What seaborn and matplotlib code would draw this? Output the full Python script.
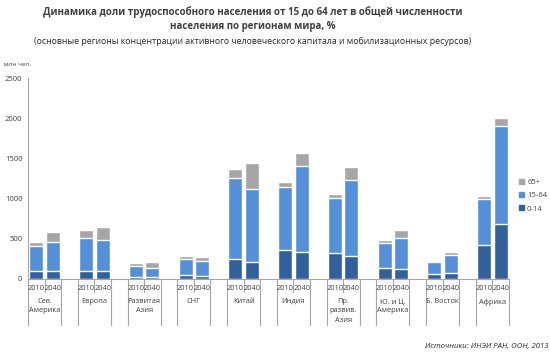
import matplotlib
matplotlib.use("Agg")
import matplotlib.pyplot as plt
from matplotlib.patches import Patch
import pandas as pd
import seaborn as sns

# данные (млн чел.), пары значений 2010 / 2040 по регионам
regions = ['Сев.\nАмерика', 'Европа', 'Развитая\nАзия', 'СНГ', 'Китай', 'Индия',
           'Пр.\nразвив.\nАзия', 'Ю. и Ц.\nАмерика', 'Б. Восток', 'Африка']
years = ['2010', '2040']
age_0_14 = [100, 104, 100, 95, 29, 25, 50, 42, 249, 212,
            361, 336, 320, 291, 133, 120, 62, 71, 424, 689]
age_15_64 = [311, 357, 411, 387, 133, 112, 195, 186, 1005, 913,
             785, 1072, 685, 942, 316, 391, 150, 232, 577, 1221]
age_65 = [54, 120, 99, 162, 41, 71, 37, 46, 121, 324,
          62, 162, 54, 167, 33, 99, 8, 33, 33, 96]

c_dark = '#31609B'
c_blue = '#548FD7'
c_gray = '#A6A6A6'
c_line = '#A6A6A6'
c_text = '#404040'

sns.set_style('white')
plt.rcParams['font.family'] = ['Open Sans', 'DejaVu Sans']

# таблица для seaborn
rows = []
for i, reg in enumerate(regions):
    for j, yr in enumerate(years):
        k = i * 2 + j
        rows.append({'slot': f'{i}_{yr}',
                     'low': age_0_14[k],
                     'mid': age_0_14[k] + age_15_64[k],
                     'top': age_0_14[k] + age_15_64[k] + age_65[k]})
df = pd.DataFrame(rows)

order = []
for i in range(len(regions)):
    order += [f'{i}_{yr}' for yr in years]
    if i < len(regions) - 1:
        order.append(f'gap{i}')

fig = plt.figure(figsize=(5.5, 3.56), dpi=100)
ax = fig.add_axes([0.0509, 0.2163, 0.8745, 0.5638])

for col, colr in [('top', c_gray), ('mid', c_blue), ('low', c_dark)]:
    sns.barplot(data=df, x='slot', y=col, order=order, color=colr,
                width=0.85, errorbar=None, saturation=1, ax=ax)

ax.set_ylim(0, 2500)
ax.set_xlim(-0.5, len(order) - 0.5)
ax.set_yticks(range(0, 2501, 500))
ax.tick_params(axis='y', labelsize=5.5, labelcolor=c_text, length=0, pad=4)
ax.set_xticks([])
ax.set_xlabel('')
ax.set_ylabel('')
sns.despine(ax=ax, top=True, right=True)
for s in ['left', 'bottom']:
    ax.spines[s].set_color(c_line)
    ax.spines[s].set_linewidth(0.8)

# подписи оси категорий (двухуровневые, как в Excel)
trans = ax.get_xaxis_transform()
for i, reg in enumerate(regions):
    x0 = order.index(f'{i}_2010')
    for xx in (x0 - 0.5, x0 + 1.5):
        ax.plot([xx, xx], [0, -0.23], transform=trans, color=c_line,
                lw=0.8, clip_on=False)
    ax.plot([x0 + 0.5, x0 + 0.5], [0, -0.065], transform=trans, color=c_line,
            lw=0.8, clip_on=False)
    for j, yr in enumerate(years):
        ax.text(x0 + j, -0.045, yr, transform=trans, ha='center', va='center',
                fontsize=5.3, color=c_text)
    ax.text(x0 + 0.5, -0.095, reg, transform=trans, ha='center', va='top',
            fontsize=5.3, color=c_text, linespacing=1.45)

# легенда
handles = [Patch(color=c_gray, label='65+'),
           Patch(color=c_blue, label='15-64'),
           Patch(color=c_dark, label='0-14')]
fig.legend(handles=handles, loc='center left', bbox_to_anchor=(0.932, 0.45),
           frameon=False, fontsize=5.5, handlelength=0.6, handleheight=0.6,
           handletextpad=0.4, labelspacing=0.8, labelcolor=c_text)

# заголовки
fig.text(0.459, 0.946, 'Динамика доли трудоспособного населения от 15 до 64 лет в общей численности\n'
         'населения по регионам мира, %', ha='center', va='center',
         fontsize=7, fontweight='bold', color=c_text, linespacing=1.45)
fig.text(0.459, 0.884, '(основные регионы концентрации активного человеческого капитала и мобилизационных ресурсов)',
         ha='center', va='center', fontsize=6.3, color='#262626')
fig.text(0.008, 0.818, 'млн чел.', ha='left', va='center', fontsize=4.6, color=c_text)
fig.text(0.997, 0.028, 'Источники: ИНЭИ РАН, ООН, 2013', ha='right', va='center',
         fontsize=5.6, style='italic', color='#262626')

fig.savefig('out.png', dpi=100)
